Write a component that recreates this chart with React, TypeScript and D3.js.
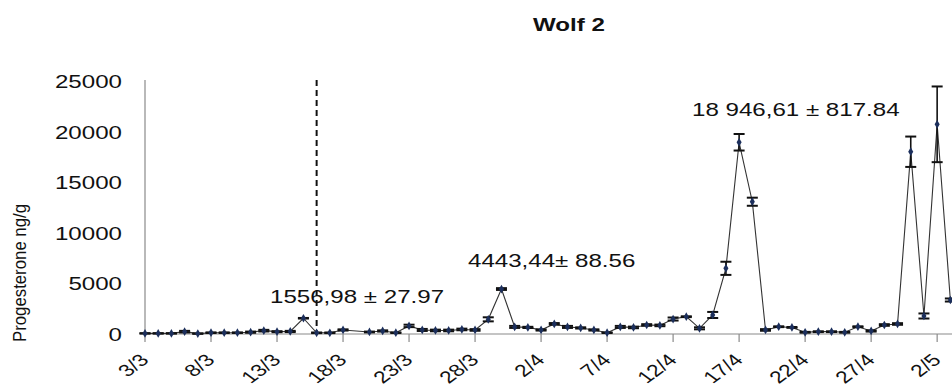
import React from "react";
import * as d3 from "d3";

// Daily faecal progesterone, first sample on 3 March
const startDate = new Date(2011, 2, 3);

// Mean progesterone (ng/g) per day; null = no sample that day
const progesterone: (number | null)[] = [
  60, 60, 60, 230, 40, 130, 130, 130, 180, 330,
  230, 250, 1556.98, 120, 120, 400, null, 200, 300, 130,
  800, 400, 350, 350, 450, 400, 1450, 4443.44, 700, 650,
  400, 1000, 700, 600, 400, 130, 700, 650, 890, 850,
  1480, 1710, 560, 1880, 6490, 18946.61, 13070, 400, 720, 650,
  170, 230, 230, 170, 720, 300, 890, 990, 18010, 1780,
  20720, 3360,
];

// Standard error per day
const stdError: (number | null)[] = [
  20, 20, 20, 80, 20, 30, 30, 30, 60, 80,
  50, 60, 27.97, 30, 30, 60, null, 40, 60, 30,
  120, 100, 80, 80, 80, 80, 200, 88.56, 100, 60,
  60, 80, 100, 60, 60, 30, 100, 80, 80, 80,
  150, 40, 100, 300, 650, 817.84, 400, 80, 40, 40,
  40, 40, 40, 40, 40, 60, 80, 80, 1500, 250,
  3740, 150,
];

const yTicks = [0, 5000, 10000, 15000, 20000, 25000];
const xTickLabels = ["3/3", "8/3", "13/3", "18/3", "23/3", "28/3", "2/4", "7/4", "12/4", "17/4", "22/4", "27/4", "2/5"];
const xTickDays = [0, 5, 10, 15, 20, 25, 30, 35, 40, 45, 50, 55, 60];

// Day of the vertical marker and the annotated peaks
const markerDay = 13;
const annotations = [
  { text: "1556,98 ± 27.97", x: 270, y: 303 },
  { text: "4443,44± 88.56", x: 468, y: 267 },
  { text: "18 946,61 ± 817.84", x: 692, y: 116 },
];

const W = 952;
const H = 389;
const SX = 1.34; // horizontal text stretch
const FONT = "Arial, 'Liberation Sans', sans-serif";

type Pt = { d: Date; v: number; e: number };

export default function App() {
  const x = d3
    .scaleTime()
    .domain([startDate, d3.timeHour.offset(startDate, 61.14 * 24)])
    .range([145, 952]);
  const y = d3.scaleLinear().domain([0, 25000]).range([334, 81]);

  // sampled days only; the line joins across missing days
  const pts: Pt[] = [];
  progesterone.forEach((v, i) => {
    if (v != null) pts.push({ d: d3.timeDay.offset(startDate, i), v, e: stdError[i] ?? 0 });
  });
  const line = d3
    .line<Pt>()
    .x((p) => x(p.d))
    .y((p) => y(p.v));
  const diamond = d3.symbol().type(d3.symbolDiamond).size(22)();
  const markerX = x(d3.timeDay.offset(startDate, markerDay));

  return (
    <svg
      width={W}
      height={H}
      style={{ position: "absolute", left: 0, top: 0, background: "#fff" }}
      fontFamily={FONT}
    >
      <rect width={W} height={H} fill="#fff" />
      <text transform={`translate(533,31) scale(${SX},1)`} fontSize={18} fontWeight="bold" fill="#111">
        Wolf 2
      </text>

      {/* y axis */}
      <line x1={145} x2={145} y1={80} y2={334} stroke="#8a8a8a" strokeWidth={1.2} />
      {yTicks.map((t) => (
        <text
          key={t}
          transform={`translate(122,${y(t) + 7}) scale(${SX},1)`}
          textAnchor="end"
          fontSize={18}
          fill="#111"
        >
          {t}
        </text>
      ))}
      <text transform="translate(26,273) scale(1.1,1) rotate(-90)" textAnchor="middle" fontSize={16.8} fill="#111">
        Progesterone ng/g
      </text>

      {/* x axis */}
      <line x1={145} x2={952} y1={334} y2={334} stroke="#8a8a8a" strokeWidth={1.2} />
      {xTickDays.map((dd, i) => {
        const tx = x(d3.timeDay.offset(startDate, dd));
        return (
          <g key={dd}>
            <line x1={tx} x2={tx} y1={334} y2={342} stroke="#8a8a8a" strokeWidth={1.2} />
            <text
              transform={`translate(${tx + 5},361) scale(${SX},1) rotate(-45)`}
              textAnchor="end"
              fontSize={17}
              fill="#111"
            >
              {xTickLabels[i]}
            </text>
          </g>
        );
      })}

      {/* marker line */}
      <line
        x1={markerX}
        x2={markerX}
        y1={80}
        y2={334}
        stroke="#111"
        strokeWidth={2}
        strokeDasharray="6,4"
      />

      {/* series */}
      <path d={line(pts) || ""} fill="none" stroke="#333" strokeWidth={1.1} />
      {pts.map((p, i) => {
        const px = x(p.d);
        const yt = y(p.v + p.e);
        const yb = y(p.v - p.e);
        return (
          <g key={i}>
            <line x1={px} x2={px} y1={yt} y2={yb} stroke="#111" strokeWidth={1.6} />
            <line x1={px - 5.5} x2={px + 5.5} y1={yt} y2={yt} stroke="#111" strokeWidth={2} />
            <line x1={px - 5.5} x2={px + 5.5} y1={yb} y2={yb} stroke="#111" strokeWidth={2} />
            <path d={diamond || ""} transform={`translate(${px},${y(p.v)})`} fill="#1c2f5c" />
          </g>
        );
      })}

      {annotations.map((a) => (
        <text key={a.text} transform={`translate(${a.x},${a.y}) scale(${SX},1)`} fontSize={18} fill="#111">
          {a.text}
        </text>
      ))}
    </svg>
  );
}
